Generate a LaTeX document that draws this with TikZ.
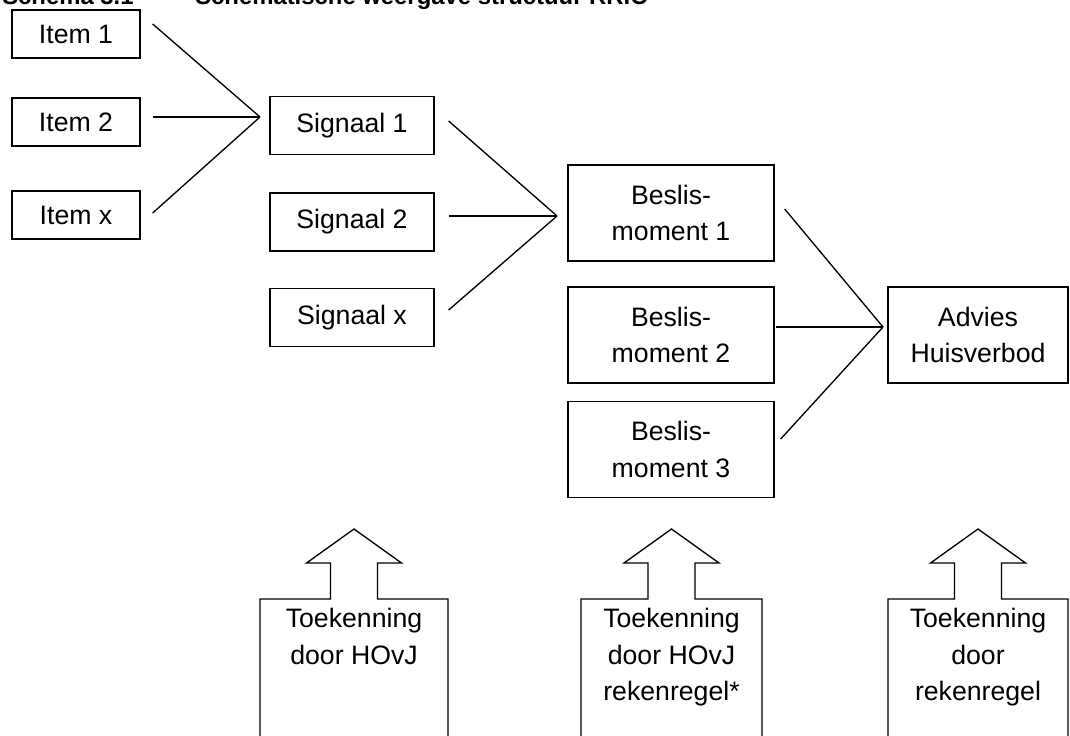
\documentclass[tikz,border=0pt]{standalone}
\usepackage{fontspec}
\setmainfont{Liberation Sans}
\usetikzlibrary{calc}
\begin{document}
\begin{tikzpicture}[x=0.75pt,y=-0.75pt,
  ln/.style={line width=1pt},
  txt/.style={inner sep=0pt,align=center,font=\fontsize{20}{27.5}\selectfont},
  box/.style={ln,draw,txt},
  itembox/.style={box,minimum width=96pt,minimum height=36pt},
  sigbox/.style={box,minimum width=123pt,minimum height=43.5pt},
  besbox/.style={box,minimum width=154.5pt,minimum height=72pt},
  advbox/.style={box,minimum width=135pt,minimum height=72pt},
  ttl/.style={inner sep=0pt,anchor=base west,font=\fontsize{17.9}{20}\selectfont\bfseries}
]
\useasboundingbox (0,0) rectangle (1070,735);
\clip (0,0) rectangle (1070,735);
% title (cut off at the top)
\node[ttl] (title1) at (2,5) {Schema 3.1};
\node[ttl] (title2) at (195,5) {Schematische weergave structuur RRIC};
% items
\node[itembox] (i1) at (76,34) {Item 1};
\node[itembox] (i2) at (76,122) {Item 2};
\node[itembox] (ix) at (76,215) {Item x};
% signals
\node[sigbox] (s1) at (352,125.5) {Signaal 1};
\node[sigbox] (s2) at (352,222) {Signaal 2};
\node[sigbox] (sx) at (352,317.5) {Signaal x};
% beslismomenten
\node[besbox] (b1) at (671,213) {Beslis-\\moment 1};
\node[besbox] (b2) at (671,335) {Beslis-\\moment 2};
\node[besbox] (b3) at (671,449.5) {Beslis-\\moment 3};
% advies
\node[advbox] (adv) at (978,335) {Advies\\Huisverbod};
% hubs
\coordinate (h1) at (260,117);
\coordinate (h2) at (557,216);
\coordinate (h3) at (883,327);
\draw[ln] ($(i1.east)+(12,-10)$) -- (h1);
\draw[ln] ($(i2.east)+(12,-5)$) -- (h1);
\draw[ln] ($(ix.east)+(12,-2)$) -- (h1);
\draw[ln] ($(s1.east)+(14,-4.5)$) -- (h2);
\draw[ln] ($(s2.east)+(14,-6)$) -- (h2);
\draw[ln] ($(sx.east)+(14,-7.5)$) -- (h2);
\draw[ln] ($(b1.east)+(10,-4)$) -- (h3);
\draw[ln] ($(b2.east)+(1,-8)$) -- (h3);
\draw[ln] ($(b3.east)+(6,-10.5)$) -- (h3);
% bottom arrow boxes
\draw[ln] (260,740) -- (260,599) -- (330.5,599) -- (330.5,563) -- (306.5,563) -- (354,529)
  -- (401.5,563) -- (377.5,563) -- (377.5,599) -- (448,599) -- (448,740);
\draw[ln] (581,740) -- (581,599) -- (648,599) -- (648,563) -- (624,563) -- (671.5,529)
  -- (719,563) -- (695,563) -- (695,599) -- (762,599) -- (762,740);
\draw[ln] (888,740) -- (888,599) -- (954.5,599) -- (954.5,563) -- (930.5,563) -- (978,529)
  -- (1025.5,563) -- (1001.5,563) -- (1001.5,599) -- (1068,599) -- (1068,740);
\node[txt,anchor=north] (t1) at (354,608) {Toekenning\\door HOvJ};
\node[txt,anchor=north] (t2) at (671.5,608) {Toekenning\\door HOvJ\\rekenregel*};
\node[txt,anchor=north] (t3) at (978,608) {Toekenning\\door\\rekenregel};
\end{tikzpicture}
\end{document}
